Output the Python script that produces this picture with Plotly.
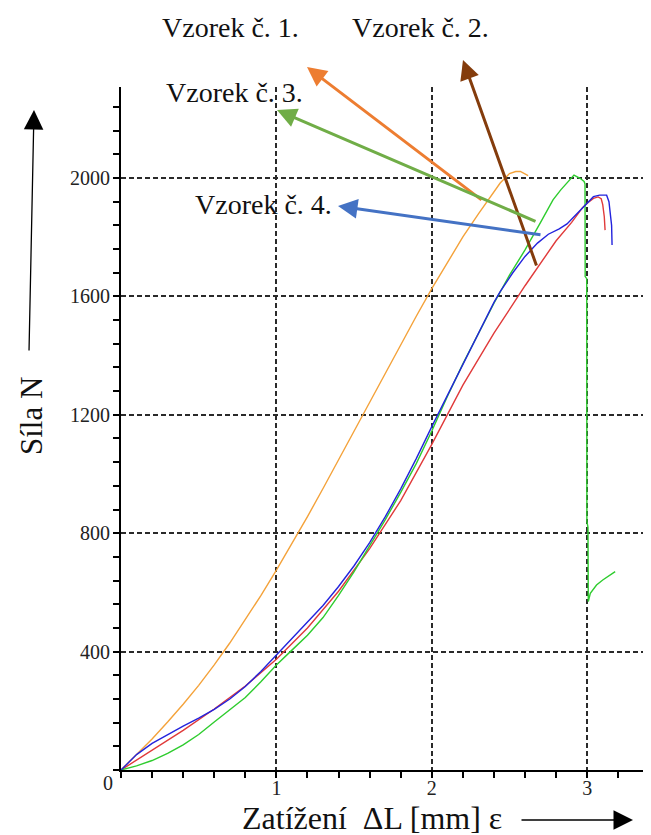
import plotly.graph_objects as go

# ---------------- data ----------------
x_v1 = [0, 0.1, 0.2, 0.3, 0.4, 0.5, 0.6, 0.7, 0.8, 0.9, 1.0, 1.1, 1.2, 1.3, 1.4, 1.5, 1.6,
        1.7, 1.8, 1.9, 2.0, 2.1, 2.2, 2.3, 2.353, 2.4, 2.44, 2.5, 2.54, 2.57, 2.6, 2.62]
f_v1 = [0, 51, 105, 162, 222, 286, 355, 429, 507, 589, 675, 764, 856, 951, 1048, 1146, 1244,
        1341, 1438, 1533, 1626, 1716, 1801, 1879, 1918, 1952, 1983, 2015, 2022, 2022, 2015, 2008]

x_v2 = [0, 0.2, 0.4, 0.6, 0.8, 1.0, 1.2, 1.4, 1.6, 1.8, 2.0, 2.2, 2.4, 2.6, 2.8, 2.9, 2.97,
        3.0, 3.04, 3.07, 3.09, 3.10, 3.11, 3.115]
f_v2 = [0, 68, 134, 206, 284, 374, 480, 604, 748, 910, 1100, 1300, 1476, 1636, 1788, 1850, 1900,
        1915, 1931, 1936, 1930, 1910, 1869, 1824]

x_v3 = [0, 0.1, 0.2, 0.3, 0.4, 0.5, 0.6, 0.7, 0.8, 0.9, 1.0, 1.1, 1.2, 1.3, 1.4, 1.5, 1.6,
        1.7, 1.8, 1.9, 2.0, 2.1, 2.2, 2.3, 2.4, 2.5, 2.6, 2.7, 2.78, 2.83, 2.87, 2.915, 2.954,
        2.98, 2.986, 2.987, 2.997, 2.998, 3.005, 3.007, 3.02, 3.06, 3.10, 3.147, 3.18]
f_v3 = [0, 14, 32, 56, 85, 120, 162, 205, 245, 298, 355, 405, 455, 515, 590, 670, 758,
        845, 938, 1035, 1145, 1262, 1372, 1475, 1577, 1672, 1757, 1850, 1926, 1960, 1983, 2010, 1999,
        1988, 1980, 1667, 1660, 840, 820, 569, 597, 625, 642, 659, 670]

x_v4 = [0, 0.1, 0.2, 0.3, 0.4, 0.5, 0.6, 0.7, 0.8, 0.9, 1.0, 1.1, 1.2, 1.3, 1.4, 1.5, 1.6,
        1.7, 1.8, 1.9, 2.0, 2.1, 2.2, 2.3, 2.4, 2.44, 2.52, 2.6, 2.68, 2.75, 2.82, 2.87, 2.93,
        3.0, 3.04, 3.08, 3.125, 3.14, 3.15, 3.157, 3.16]
f_v4 = [0, 52, 90, 120, 148, 175, 205, 240, 282, 333, 388, 443, 498, 556, 620, 690, 768,
        855, 950, 1052, 1160, 1265, 1370, 1470, 1580, 1616, 1679, 1735, 1780, 1810, 1828, 1845, 1878,
        1916, 1937, 1942, 1942, 1920, 1880, 1840, 1774]

sample_names = ["Vzorek č. 1.", "Vzorek č. 2.", "Vzorek č. 3.", "Vzorek č. 4."]
y_tick_vals = [400, 800, 1200, 1600, 2000]
x_tick_vals = [1, 2, 3]
x_title = "Zatížení  ΔL [mm] ε"
y_title = "Síla N"

# ---------------- layout geometry ----------------
OFF = 8                      # page body margin of the html page
W, H = 651, 835 - OFF        # plot runs on past the right window edge, as in the reference
ML, MR, MT = 121 - OFF, 0, 87 - OFF
MB = H - (770 - OFF)
PW, PH = W - ML - MR, H - MT - MB
X_RANGE = [0, PW / 155.4]
Y_RANGE = [0, PH / 118.4 * 400]
FONT = "Liberation Serif, Times New Roman, serif"


def px(xp):
    """page x pixel -> paper coordinate"""
    return (xp - OFF - ML) / PW


def py(yp):
    """page y pixel -> paper coordinate"""
    return (H - MB - (yp - OFF)) / PH


fig = go.Figure()
curve_colors = ["#F4A23A", "#E03A3A", "#2ECC2E", "#2323DD"]
for xs, fs, name, col in zip([x_v1, x_v2, x_v3, x_v4], [f_v1, f_v2, f_v3, f_v4],
                             sample_names, curve_colors):
    fig.add_trace(go.Scatter(x=xs, y=fs, mode="lines", name=name,
                             line=dict(color=col, width=1.4), showlegend=False))

grid_kw = dict(showgrid=True, gridcolor="#2a2a2a", gridwidth=1.5, griddash="5px,3px")
tick_font = dict(family=FONT, size=20, color="#222")

fig.update_layout(
    width=W, height=H,
    margin=dict(l=ML, r=MR, t=MT, b=MB, pad=0),
    paper_bgcolor="white", plot_bgcolor="white",
    showlegend=False,
    xaxis=dict(range=X_RANGE, tickmode="array", tickvals=x_tick_vals,
               ticktext=[str(v) for v in x_tick_vals],
               ticks="outside", ticklen=6, tickwidth=1.5, tickcolor="black",
               minor=dict(tick0=0, dtick=0.2, ticks="outside", ticklen=6, tickwidth=1.5,
                          tickcolor="black", showgrid=False),
               showline=True, linecolor="black", linewidth=2, zeroline=False,
               tickfont=tick_font, ticklabelstandoff=-7, **grid_kw),
    yaxis=dict(range=Y_RANGE, tickmode="array", tickvals=y_tick_vals,
               ticks="outside", ticklen=6, tickwidth=1.5, tickcolor="black",
               minor=dict(tick0=0, dtick=80, ticks="outside", ticklen=6, tickwidth=1.5,
                          tickcolor="black", showgrid=False),
               showline=True, linecolor="black", linewidth=2, zeroline=False,
               tickfont=tick_font, ticklabelstandoff=-1, **grid_kw),
    xaxis2=dict(range=X_RANGE, overlaying="x", anchor="y", tickmode="array", tickvals=x_tick_vals,
                ticks="inside", ticklen=4, tickwidth=1.5, tickcolor="black",
                minor=dict(tick0=0, dtick=0.2, ticks="inside", ticklen=4, tickwidth=1.5,
                           tickcolor="black", showgrid=False),
                showticklabels=False, showgrid=False, showline=False, zeroline=False),
    yaxis2=dict(range=Y_RANGE, overlaying="y", anchor="x", side="left", tickmode="array",
                tickvals=y_tick_vals,
                ticks="inside", ticklen=6, tickwidth=1.5, tickcolor="black",
                minor=dict(tick0=0, dtick=80, ticks="inside", ticklen=6, tickwidth=1.5,
                           tickcolor="black", showgrid=False),
                showticklabels=False, showgrid=False, showline=False, zeroline=False),
)

ann = []
text_font = dict(family=FONT, size=28, color="#111")
# sample labels (page pixel centres)
for name, (cx, cy) in zip(sample_names, [(230, 27), (420, 27), (234, 92), (263, 205)]):
    ann.append(dict(text=name, x=px(cx), y=py(cy), xref="paper", yref="paper",
                    showarrow=False, font=text_font, xanchor="center", yanchor="middle"))
# axis titles
ann.append(dict(text=y_title, x=px(31), y=py(416), xref="paper", yref="paper", textangle=-90,
                showarrow=False, font=dict(family=FONT, size=31, color="#111"),
                xanchor="center", yanchor="middle"))
ann.append(dict(text=x_title, x=px(372), y=py(818), xref="paper", yref="paper",
                showarrow=False, font=dict(family=FONT, size=32, color="#111"),
                xanchor="center", yanchor="middle"))
ann.append(dict(text="0", x=px(108), y=py(783), xref="paper", yref="paper",
                showarrow=False, font=tick_font, xanchor="center", yanchor="middle"))

# arrows in page pixels: (head_x, head_y, tail_x, tail_y, color, width, arrowsize)
arrows = [
    (34, 110, 29, 352, "black", 1.3, 3.0),
    (633, 820, 520, 820, "black", 1.3, 3.0),
    (307, 67, 483, 201, "#ED7D31", 3, 1.3),
    (463, 60, 537, 267, "#843C0C", 3, 1.3),
    (277, 110, 537, 222, "#70AD47", 3, 1.3),
    (338, 206, 542, 235, "#4472C4", 3, 1.3),
]
for hx, hy, tx, ty, col, wdt, asz in arrows:
    ann.append(dict(text="", x=px(hx), y=py(hy), xref="paper", yref="paper",
                    ax=tx - hx, ay=ty - hy, axref="pixel", ayref="pixel",
                    showarrow=True, arrowhead=2, arrowsize=asz, arrowwidth=wdt,
                    arrowcolor=col, standoff=0, startstandoff=0))
fig.update_layout(annotations=ann)

fig.write_html("out.html")
